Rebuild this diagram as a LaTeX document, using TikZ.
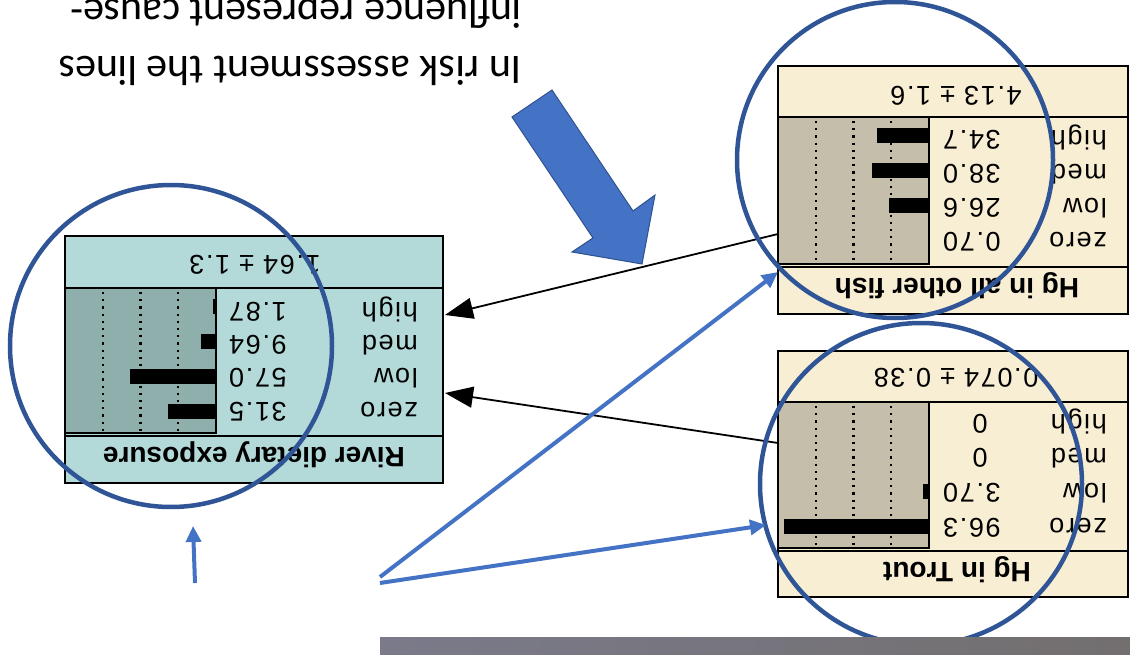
\documentclass[tikz,border=0pt]{standalone}
\usepackage{fontspec}
\setmainfont{Liberation Sans}
\newfontfamily\slidefont{Carlito}
\usetikzlibrary{arrows.meta}
\definecolor{creamfill}{RGB}{248,238,212}
\definecolor{tanbar}{RGB}{197,190,170}
\definecolor{riverfill}{RGB}{179,218,217}
\definecolor{riverbar}{RGB}{143,175,172}
\definecolor{ringblue}{RGB}{47,85,151}
\definecolor{accentblue}{RGB}{68,114,196}
\definecolor{accentdark}{RGB}{47,82,143}
\definecolor{greyleft}{RGB}{122,122,138}
\definecolor{greyright}{RGB}{115,111,111}
\begin{document}
\begin{tikzpicture}[x=1pt,y=-1pt,
  boxline/.style={draw=black, line width=1.6pt},
  lbl/.style={rotate=180, inner sep=0pt, font=\fontsize{27}{30}\selectfont\addfontfeature{LetterSpace=6}},
  ttl/.style={rotate=180, inner sep=0pt, font=\fontsize{28}{32}\selectfont\bfseries},
  slidetext/.style={rotate=180, inner sep=0pt, font=\slidefont\fontsize{42}{50}\selectfont},
  gridline/.style={line width=2.2pt, dash pattern=on 2.2pt off 5pt},
  causal/.style={line width=1.8pt, -{Triangle[length=28pt,width=21pt]}},
  pointer/.style={accentblue, line width=4pt, -{Triangle[length=16pt,width=15pt]}},
  ring/.style={ringblue, line width=4.5pt}]
\useasboundingbox (0,0) rectangle (1130,655);
\clip (0,0) rectangle (1130,655);

% slide text (upside down)
\node[slidetext, anchor=base west] (line1) at (522,57) {In risk assessment the lines};
\node[slidetext, anchor=base west] (line2) at (522,0) {influence represent cause-};

% ---------- Hg in all other fish ----------
\draw[boxline, fill=creamfill] (778,66) rectangle (1128,314);
\draw[boxline, fill=tanbar] (778,117) rectangle (929,264);
\draw[line width=1.2pt] (778,117) -- (1128,117) (778,267) -- (1128,267);
\foreach \f in {0.25,0.5,0.75} \draw[gridline] (929-\f*151,121) -- (929-\f*151,262);
\foreach \r/\p in {136/34.7, 171/38.0, 206/26.6, 241/0.70}
  \fill (929-\p*1.51,\r-7.5) rectangle (929,\r+7.5);
\foreach \b/\l/\v in {131/high/34.7, 165/med/38.0, 199/low/26.6, 233/zero/0.70} {
  \node[lbl, anchor=base west] (of-l-\b) at (1107,\b) {\l};
  \node[lbl, anchor=base east] (of-v-\b) at (943,\b) {\v};
}
\node[lbl, anchor=base] (of-mean) at (956,87) {4.13 ± 1.6};
\node[ttl, anchor=base] (of-title) at (957,278) {Hg in all other fish};

% ---------- Hg in Trout ----------
\draw[boxline, fill=creamfill] (778,351) rectangle (1128,597);
\draw[boxline, fill=tanbar] (778,402) rectangle (929,548);
\draw[line width=1.2pt] (778,402) -- (1128,402) (778,551) -- (1128,551);
\foreach \f in {0.25,0.5,0.75} \draw[gridline] (929-\f*151,406) -- (929-\f*151,546);
\foreach \r/\p in {491/3.70, 526/96.3}
  \fill (929-\p*1.51,\r-7.5) rectangle (929,\r+7.5);
\foreach \b/\l in {414/high, 448/med, 483/low, 518/zero}
  \node[lbl, anchor=base west] (tr-l-\b) at (1107,\b) {\l};
\node[lbl, anchor=base] (tr-v-414) at (980,414) {0};
\node[lbl, anchor=base] (tr-v-448) at (980,448) {0};
\node[lbl, anchor=base east] (tr-v-483) at (943,483) {3.70};
\node[lbl, anchor=base east] (tr-v-518) at (943,518) {96.3};
\node[lbl, anchor=base] (tr-mean) at (956,368) {0.074 ± 0.38};
\node[ttl, anchor=base] (tr-title) at (957,562) {Hg in Trout};

% ---------- River dietary exposure ----------
\draw[boxline, fill=riverfill] (65,236) rectangle (443,483);
\draw[boxline, fill=riverbar] (65,288) rectangle (216,433);
\draw[line width=1.2pt] (65,288) -- (443,288) (65,436) -- (443,436);
\foreach \f in {0.25,0.5,0.75} \draw[gridline] (216-\f*151,292) -- (216-\f*151,431);
\foreach \r/\p in {306/1.87, 341/9.64, 376/57.0, 411/31.5}
  \fill (216-\p*1.51,\r-7.5) rectangle (216,\r+7.5);
\foreach \b/\l/\v in {302/high/1.87, 335/med/9.64, 368/low/57.0, 402/zero/31.5} {
  \node[lbl, anchor=base west] (rd-l-\b) at (418,\b) {\l};
  \node[lbl, anchor=base east] (rd-v-\b) at (229,\b) {\v};
}
\node[lbl, anchor=base] (rd-mean) at (255,255) {1.64 ± 1.3};
\node[ttl, anchor=base] (rd-title) at (254,447) {River dietary exposure};

% ---------- causal links ----------
\coordinate (ofout) at (778,234);
\coordinate (rdin1) at (445,315);
\coordinate (trout) at (778,443);
\coordinate (rdin2) at (445,393);
\draw[causal] (ofout) -- (rdin1);
\draw[causal] (trout) -- (rdin2);

% ---------- block arrow ----------
\draw[fill=accentblue, draw=accentdark, line width=1pt]
  (512,117) -- (552,90) -- (633,211) -- (655,195) -- (642,264) -- (572,252) -- (593,238) -- cycle;

% ---------- rings ----------
\draw[ring] (895,160) circle[radius=158];
\draw[ring] (921,484) circle[radius=161];
\draw[ring] (171,346) circle[radius=161];

% ---------- pointer arrows ----------
\coordinate (srcA) at (380,577);
\coordinate (srcB) at (380,583);
\coordinate (tipA) at (778,272);
\coordinate (tipB) at (766,525);
\coordinate (srcC) at (195,583);
\coordinate (tipC) at (193,526);
\draw[pointer] (srcA) -- (tipA);
\draw[pointer] (srcB) -- (tipB);
\draw[pointer] (srcC) -- (tipC);

% ---------- bottom bar ----------
\shade[left color=greyleft, right color=greyright] (380,637) rectangle (1130,655);
\end{tikzpicture}
\end{document}
